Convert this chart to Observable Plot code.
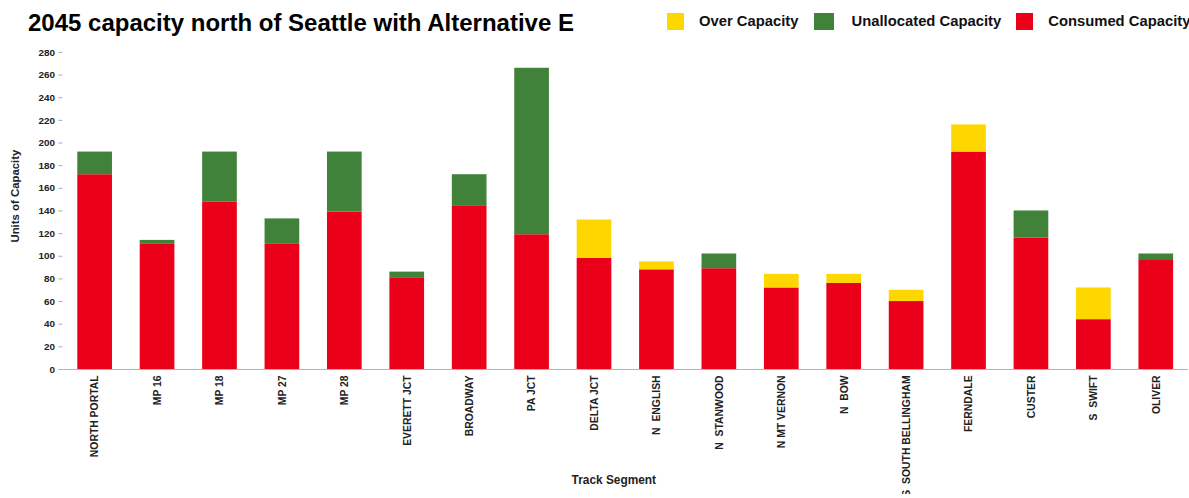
<!DOCTYPE html>
<html>
<head>
<meta charset="utf-8">
<script src="https://cdn.jsdelivr.net/npm/d3@7"></script>
<script src="https://cdn.jsdelivr.net/npm/@observablehq/plot@0.6"></script>
<style>
  html, body { margin: 0; padding: 0; background: #fff; overflow: hidden; width: 1189px; height: 498px; }
  body { font-family: "Liberation Sans", Arial, sans-serif; }
  #header { position: relative; height: 44px; width: 1189px; }
  #title { position: absolute; left: 28px; top: 11px; font-size: 24px; font-weight: bold; line-height: 1; color: #000; white-space: nowrap; }
  #legend { position: absolute; left: 667px; top: 13px; display: flex; align-items: center; white-space: nowrap; }
  .item { display: flex; align-items: center; margin-right: 15px; }
  .sw { width: 17px; height: 17px; margin-right: 15px; }
  .item:nth-child(2) .sw { width: 20px; margin-right: 18px; }
  .lab { font-size: 14.8px; font-weight: bold; color: #111; line-height: 17px; }
  #chart svg { display: block; }
</style>
</head>
<body>
<div id="header">
  <div id="title">2045 capacity north of Seattle with Alternative E</div>
  <div id="legend"></div>
</div>
<div id="chart"></div>
<script>
const segments = ["NORTH PORTAL", "MP 16", "MP 18", "MP 27", "MP 28", "EVERETT JCT", "BROADWAY", "PA JCT", "DELTA JCT", "N  ENGLISH", "N  STANWOOD", "N MT VERNON", "N  BOW", "S  SOUTH BELLINGHAM", "FERNDALE", "CUSTER", "S  SWIFT", "OLIVER"];
const consumed    = [172, 111, 148, 111, 139, 81, 144, 119, 98, 88, 89, 72, 76, 60, 192, 116, 44, 97];
const unallocated = [20, 3, 44, 22, 53, 5, 28, 147, 0, 0, 13, 0, 0, 0, 0, 24, 0, 5];
const over        = [0, 0, 0, 0, 0, 0, 0, 0, 34, 7, 0, 12, 8, 10, 24, 0, 28, 0];
const seriesNames = ["Over Capacity", "Unallocated Capacity", "Consumed Capacity"];
const seriesColors = ["#ffd700", "#41823a", "#ea0019"];
const yTicks = [0, 20, 40, 60, 80, 100, 120, 140, 160, 180, 200, 220, 240, 260, 280];
const yLabel = "Units of Capacity";
const xLabel = "Track Segment";

const rows = [];
segments.forEach((s, i) => {
  rows.push({segment: s, type: "Consumed Capacity", value: consumed[i]});
  rows.push({segment: s, type: "Unallocated Capacity", value: unallocated[i]});
  rows.push({segment: s, type: "Over Capacity", value: over[i]});
});

// legend
const legend = document.getElementById("legend");
seriesNames.forEach((n, i) => {
  const it = document.createElement("div");
  it.className = "item";
  const sw = document.createElement("div");
  sw.className = "sw";
  sw.style.background = seriesColors[i];
  const lab = document.createElement("div");
  lab.className = "lab";
  lab.textContent = n;
  it.appendChild(sw); it.appendChild(lab);
  legend.appendChild(it);
});

const chart = Plot.plot({
  width: 1200,
  height: 454,
  marginLeft: 63,
  marginRight: 1,
  marginTop: 8,
  marginBottom: 126,
  style: {fontFamily: "'Liberation Sans', Arial, sans-serif", color: "#aaaaaa", background: "#fff"},
  x: {domain: segments, paddingInner: 0.445, paddingOuter: 0.2225, label: null},
  y: {domain: [0, 280], label: null},
  color: {domain: seriesNames, range: seriesColors},
  marks: [
    Plot.barY(rows, {x: "segment", y: "value", fill: "type", order: ["Consumed Capacity", "Unallocated Capacity", "Over Capacity"]}),
    Plot.ruleY([0], {stroke: "#b4b4b4", strokeWidth: 1.2}),
    Plot.axisY({ticks: yTicks, tickSize: 4, tickPadding: 4, fontSize: 10, fontWeight: "bold", fill: "#222", line: true, label: null}),
    Plot.axisX({tickRotate: -90, tickSize: 0, tickPadding: 6, fontSize: 10.5, fontWeight: "bold", fill: "#222", label: null}),
    Plot.text([yLabel], {frameAnchor: "left", textAnchor: "middle", rotate: -90, dx: -48, dy: -15, fontSize: 11.5, fontWeight: "bold", fill: "#222"}),
    Plot.text([xLabel], {frameAnchor: "bottom", dx: -12, dy: 116, fontSize: 12, fontWeight: "bold", fill: "#222"})
  ]
});
document.getElementById("chart").appendChild(chart);
</script>
</body>
</html>
